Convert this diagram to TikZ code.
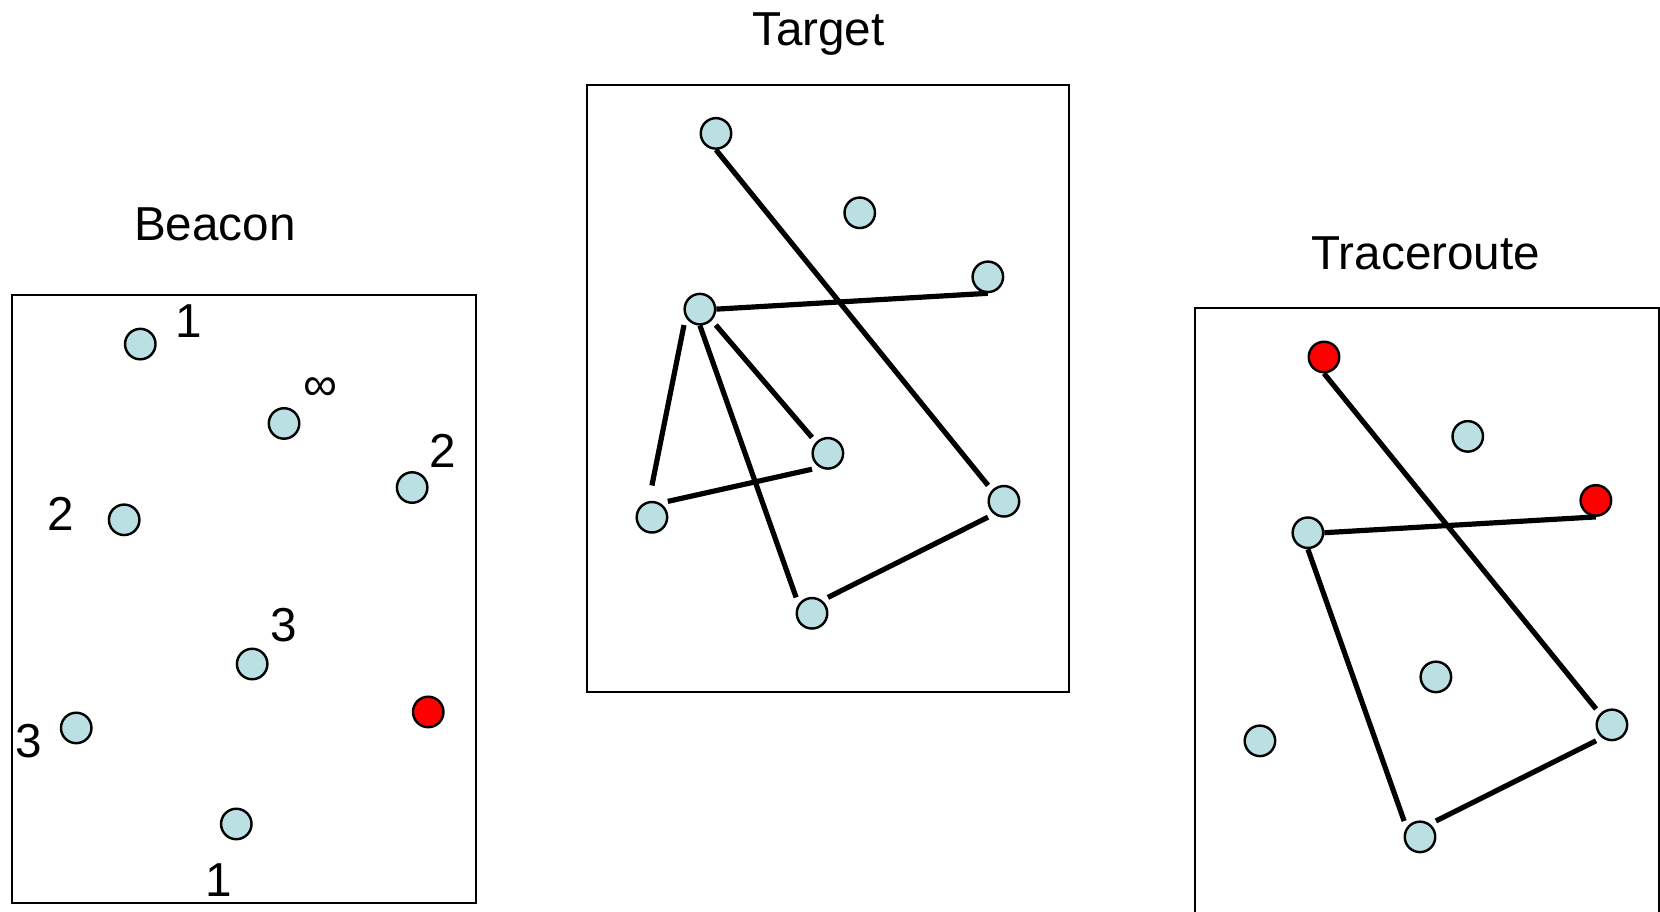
\documentclass[tikz,border=0pt]{standalone}
\usepackage{fontspec}
\setmainfont{Liberation Sans}
\usetikzlibrary{positioning}

\begin{document}
\begin{tikzpicture}[
  x=0.5pt, y=-0.5pt,
  font=\fontsize{22.5}{27}\selectfont,
  host/.style={circle, draw=black, line width=1.15pt, fill=#1,
               minimum size=14.4pt, inner sep=0pt},
  host/.default=hostblue,
  panel/.style={draw=black, line width=1pt},
  title/.style={anchor=base, inner sep=0pt},
  hop/.style={inner sep=0pt},
  link/.style={line width=2.45pt},
]
\definecolor{hostblue}{HTML}{BBE0E3}
\definecolor{hostred}{HTML}{FF0000}

\clip (0,0) rectangle (1568,861);

% ---- titles ----
\node[title] (beacon) at (203,227.5) {Beacon};
\node[title] (target) at (773,43.4) {Target};
\node[title] (trace) at (1346.8,254.9) {Traceroute};

% ---- beacon panel ----
\begin{scope}[shift={(11,279)}]
  \draw[panel] (0,0) rectangle (438.6,574);
  \node[host] (ba) at (121.5,46) {};
  \node[host] (bb) at (257.3,121) {};
  \node[host] (bc) at (378.3,181.5) {};
  \node[host] (bd) at (106.3,212) {};
  \node[host] (be) at (227.2,348.2) {};
  \node[host] (bf) at (61,408.6) {};
  \node[host=hostred] (bg) at (393.5,393.5) {};
  \node[host] (bh) at (212.2,499.3) {};
\end{scope}

% ---- target panel ----
\begin{scope}[shift={(554.8,80)}]
  \draw[panel] (0,0) rectangle (455,574);
  \node[host] (ta) at (121.5,46) {};
  \node[host] (tb) at (257.3,121) {};
  \node[host] (tc) at (378.3,181.5) {};
  \node[host] (td) at (106.3,212) {};
  \node[host] (te) at (227.2,348.2) {};
  \node[host] (tf) at (61,408.6) {};
  \node[host] (tg) at (393.5,393.5) {};
  \node[host] (th) at (212.2,499.3) {};
\end{scope}

% ---- traceroute panel ----
\begin{scope}[shift={(1129.1,291.2)}]
  \draw[panel] (0,0) rectangle (438,574);
  \node[host=hostred] (ra) at (121.5,46) {};
  \node[host] (rb) at (257.3,121) {};
  \node[host=hostred] (rc) at (378.3,181.5) {};
  \node[host] (rd) at (106.3,212) {};
  \node[host] (re) at (227.2,348.2) {};
  \node[host] (rf) at (61,408.6) {};
  \node[host] (rg) at (393.5,393.5) {};
  \node[host] (rh) at (212.2,499.3) {};
\end{scope}

% ---- hop counts ----
\node[hop] (ba-n) at ([shift={(46,-22)}]ba.center) {1};
\node[hop, anchor=base] (bb-n) at ([shift={(34,-22)}]bb.center) {∞};
\node[hop] (bc-n) at ([shift={(29,-35)}]bc.center) {2};
\node[hop] (bd-n) at ([shift={(-60,-6)}]bd.center) {2};
\node[hop] (be-n) at ([shift={(30,-37)}]be.center) {3};
\node[hop] (bf-n) at ([shift={(-45,12)}]bf.center) {3};
\node[hop] (bh-n) at ([shift={(-17,53)}]bh.center) {1};

% ---- target links ----
\draw[link] (ta.south) -- ([shift={(-15,-15)}]tg.center);
\draw[link] (td.east) -- (tc.south);
\draw[link] ([shift={(-15,15)}]td.center) -- ([shift={(0,-30)}]tf.center);
\draw[link] (td.south) -- ([shift={(-15,-15)}]th.center);
\draw[link] ([shift={(15,15)}]td.center) -- ([shift={(-15,-15)}]te.center);
\draw[link] ([shift={(15,-15)}]tf.center) -- ([shift={(-15,15)}]te.center);
\draw[link] ([shift={(15,-15)}]th.center) -- ([shift={(-15,15)}]tg.center);

% ---- traceroute links ----
\draw[link] (ra.south) -- ([shift={(-15,-15)}]rg.center);
\draw[link] (rd.east) -- (rc.south);
\draw[link] (rd.south) -- ([shift={(-15,-15)}]rh.center);
\draw[link] ([shift={(15,-15)}]rh.center) -- ([shift={(-15,15)}]rg.center);
\end{tikzpicture}
\end{document}
